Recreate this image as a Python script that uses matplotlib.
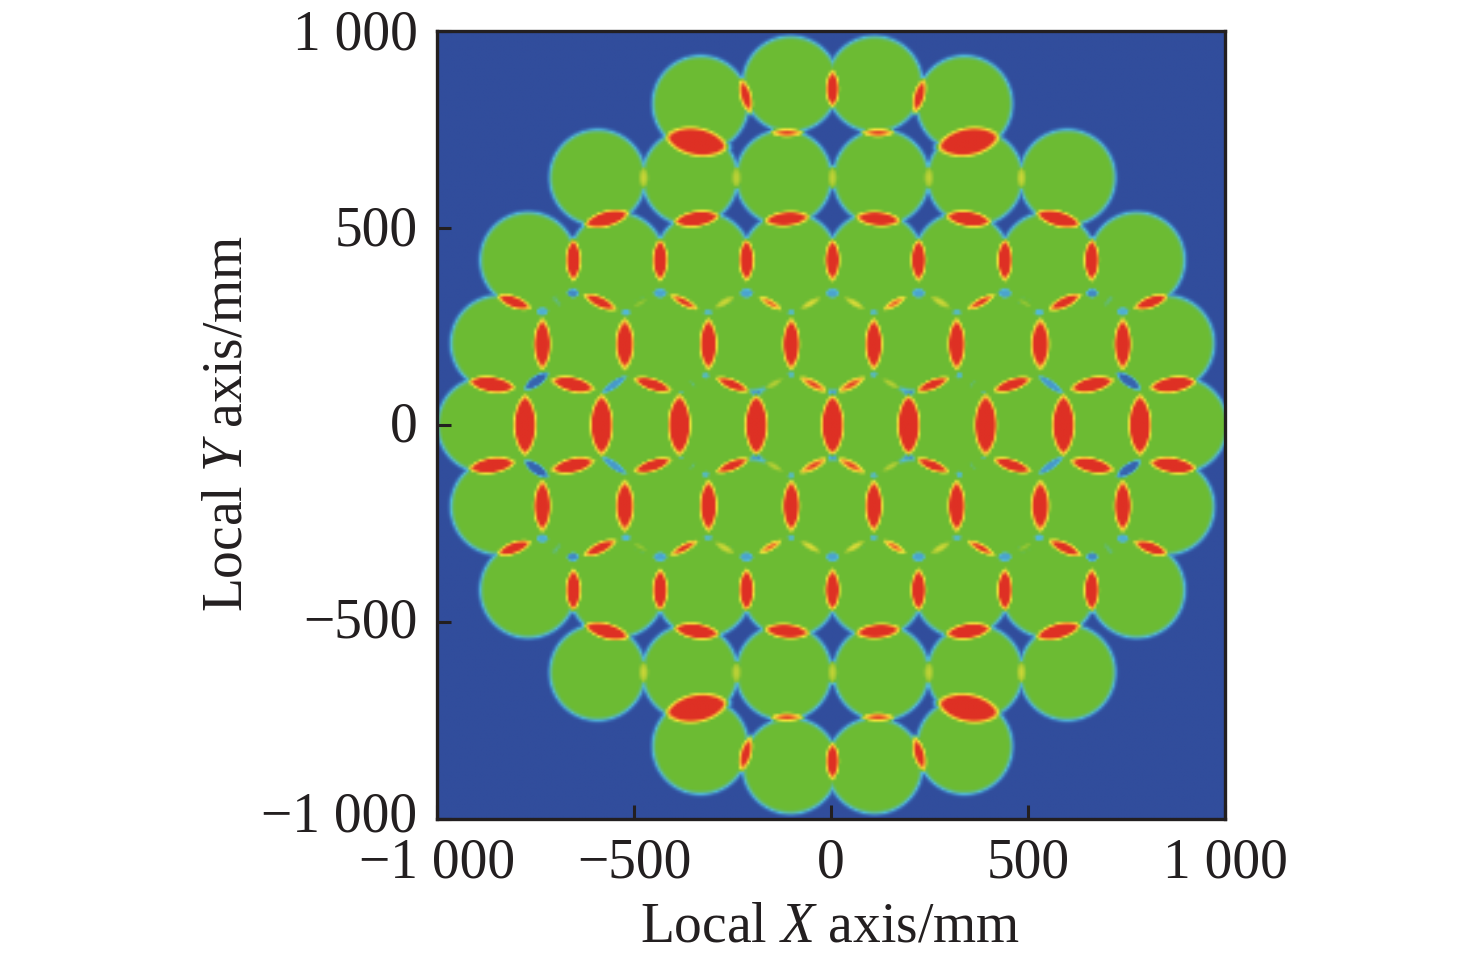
import numpy as np
import matplotlib
matplotlib.use("Agg")
import matplotlib.pyplot as plt
from matplotlib.colors import LinearSegmentedColormap
from matplotlib.transforms import ScaledTranslation

plt.rcParams['font.family'] = ['Liberation Serif', 'DejaVu Serif']
plt.rcParams['mathtext.fontset'] = 'custom'
plt.rcParams['mathtext.rm'] = 'Liberation Serif'
plt.rcParams['mathtext.it'] = 'Liberation Serif:italic'

# upper left quarter, the rest is mirrored
circle_x = [-103, -332, -120, -359, -594, -105, -325, -545, -771, 4, -206, -418, -629, -846, -92, -288, -485, -681, -880]
circle_y = [868, 818, 630, 630, 630, 420, 420, 420, 420, 208, 208, 208, 208, 208, 0, 0, 0, 0, 0]
circle_r = 122

# hot spots where neighbouring beams overlap
lens_x = [4, -217, -342, -112, 4, -241, -477, -112, -342, -571,
          4, -215, -435, -656, -52, -154, -271, -374, -486, -588, -807,
          -101, -312, -525, -735, -44, -145, -251, -454, -657, -863,
          4, -190, -386, -584, -779]
lens_y = [856, 838, 721, 744, 630, 630, 630, 525, 525, 525,
          420, 420, 420, 420, 310, 310, 313, 313, 310, 313, 313,
          206, 206, 206, 206, 103, 105, 103, 103, 103, 103,
          0, 0, 0, 0, 0]
lens_a = [52, 50, 86, 46, 30, 30, 30, 64, 64, 64,
          58, 58, 58, 58, 32, 37, 32, 44, 22, 50, 50,
          70, 70, 70, 70, 44, 28, 50, 55, 61, 65,
          82, 82, 82, 82, 82]
lens_b = [20, 18, 40, 13, 14, 14, 14, 22, 23, 23,
          22, 22, 22, 22, 10, 12, 11, 13, 7, 17, 18,
          25, 25, 27, 25, 14, 9, 16, 18, 22, 23,
          32, 32, 32, 32, 32]
lens_ang = [90, 105, -10, 0, 90, 90, 90, 5, 8, 15,
            90, 90, 90, 90, 30, -30, 30, -28, 30, -25, -20,
            90, 90, 90, 90, -28, 30, -22, -18, -12, -8,
            90, 90, 90, 90, 90]
lens_amp = [1.5, 1.2, 2.2, 0.9, 0.25, 0.25, 0.28, 1.6, 1.7, 1.7,
            1.6, 1.7, 1.7, 1.7, 0.35, 0.8, 0.3, 1.0, 0.12, 1.3, 1.4,
            1.8, 1.8, 1.7, 1.8, 0.9, 0.22, 1.3, 1.5, 1.7, 1.8,
            2.2, 2.2, 2.2, 2.2, 2.2]

# small cold gaps inside the green part
dip_x = [-657, -435, -215, 4, -735, -522, -313, -101, -750, -552, -319, -101, -382]
dip_y = [336, 336, 336, 336, 289, 287, 287, 287, 112, 103, 126, 129, 84]
dip_a = [18, 20, 20, 20, 18, 14, 14, 12, 42, 44, 11, 11, 8]
dip_b = [14, 15, 15, 15, 13, 11, 9, 9, 16, 12, 10, 10, 6]
dip_ang = [0, 0, 0, 0, 0, 0, 0, 0, 35, 35, 0, 0, 0]
dip_depth = [0.33, 0.28, 0.28, 0.28, 0.26, 0.24, 0.2, 0.2, 0.42, 0.3, 0.2, 0.2, 0.12]

x_ticks = [-1000, -500, 0, 500, 1000]
y_ticks = [-1000, -500, 0, 500, 1000]
tick_labels = ['\u22121 000', '\u2212500', '0', '500', '1 000']

x0 = 4  # the picture is centred a bit right of zero


def mirrored(x, y, ang):
    out = [(x, y, ang)]
    if abs(x - x0) > 3:
        out.append((2 * x0 - x, y, -ang))
    if y != 0:
        out = out + [(a, -y, -b) for a, _, b in out]
    return out


def spot(X, Y, x, y, a, b, ang):
    t = np.deg2rad(ang)
    u = (X - x) * np.cos(t) + (Y - y) * np.sin(t)
    v = -(X - x) * np.sin(t) + (Y - y) * np.cos(t)
    return 1 - (u / a) ** 2 - np.abs(v / b) ** 1.5


n = 300
xs = np.linspace(-1000, 1000, n)
X, Y = np.meshgrid(xs, xs)

# distance inside the union of the circles
inside = np.full(X.shape, -1e4)
for cx, cy in zip(circle_x, circle_y):
    for mx, my, _ in mirrored(cx, cy, 0):
        inside = np.maximum(inside, circle_r - np.hypot(X - mx, Y - my))

# the gaps around hot spots and cold spots are closed
for i in range(len(lens_x)):
    for mx, my, ma in mirrored(lens_x[i], lens_y[i], lens_ang[i]):
        d = spot(X, Y, mx, my, lens_a[i], lens_b[i] + 8, ma)
        inside = np.maximum(inside, 30 * d)
for i in range(len(dip_x)):
    for mx, my, ma in mirrored(dip_x[i], dip_y[i], dip_ang[i]):
        d = spot(X, Y, mx, my, dip_a[i] + 35, dip_b[i] + 35, ma)
        inside = np.maximum(inside, 30 * d)

w = 12.0
s = np.clip((inside + w) / (2 * w), 0, 1)
field = 0.5 * s * s * (3 - 2 * s)

for i in range(len(dip_x)):
    for mx, my, ma in mirrored(dip_x[i], dip_y[i], dip_ang[i]):
        d = spot(X, Y, mx, my, dip_a[i], dip_b[i], ma)
        field = np.minimum(field, 0.5 - dip_depth[i] * np.clip(d * 1.6, 0, 1))

for i in range(len(lens_x)):
    for mx, my, ma in mirrored(lens_x[i], lens_y[i], lens_ang[i]):
        d = spot(X, Y, mx, my, lens_a[i], lens_b[i], ma)
        field = field + lens_amp[i] * 0.5 * np.clip(d, 0, 1)

cmap = LinearSegmentedColormap.from_list('beam', [
    (0.0, '#314d9c'), (0.12, '#3a6fb8'), (0.26, '#52bad8'), (0.38, '#62bb80'),
    (0.5, '#6bbb33'), (0.6, '#b4cf35'), (0.7, '#f0e23c'), (0.82, '#f39a30'),
    (0.95, '#df3326'), (1.0, '#de3024')])

fig = plt.figure(figsize=(14.76, 9.59), dpi=100)
ax = fig.add_axes([437 / 1476, 1 - 819 / 959, 788 / 1476, 788 / 959])
ax.imshow(field, origin='lower', extent=[-1000, 1000, -1000, 1000], cmap=cmap,
          vmin=0, vmax=1, interpolation='bilinear', aspect='auto')

ink = '#231f20'
for sp in ax.spines.values():
    sp.set_linewidth(2.4)
    sp.set_color(ink)
ax.set_xlim(-1000, 1000)
ax.set_ylim(-1000, 1000)
ax.set_xticks(x_ticks)
ax.set_xticklabels(tick_labels)
ax.set_yticks(y_ticks)
ax.set_yticklabels(tick_labels)
ax.tick_params(direction='in', length=10, width=2.2, color=ink, labelcolor=ink,
               labelsize=40)
ax.tick_params(axis='x', pad=13)
ax.tick_params(axis='y', pad=14)

# y labels sit a little off their ticks, the bottom one most
y_shift = [8, 4, 3, 2, 1]
for lab, up in zip(ax.get_yticklabels(), y_shift):
    lab.set_transform(lab.get_transform() + ScaledTranslation(0, up / 100, fig.dpi_scale_trans))

fig.text(830 / 1476, 1 - 927 / 959, 'Local $\\mathit{X}$ axis/mm', fontsize=40, color=ink,
         ha='center', va='center')
fig.text(227 / 1476, 1 - 423 / 959, 'Local $\\mathit{Y}$ axis/mm', fontsize=40, color=ink,
         ha='center', va='center', rotation=90)

fig.savefig('out.png', dpi=100)
